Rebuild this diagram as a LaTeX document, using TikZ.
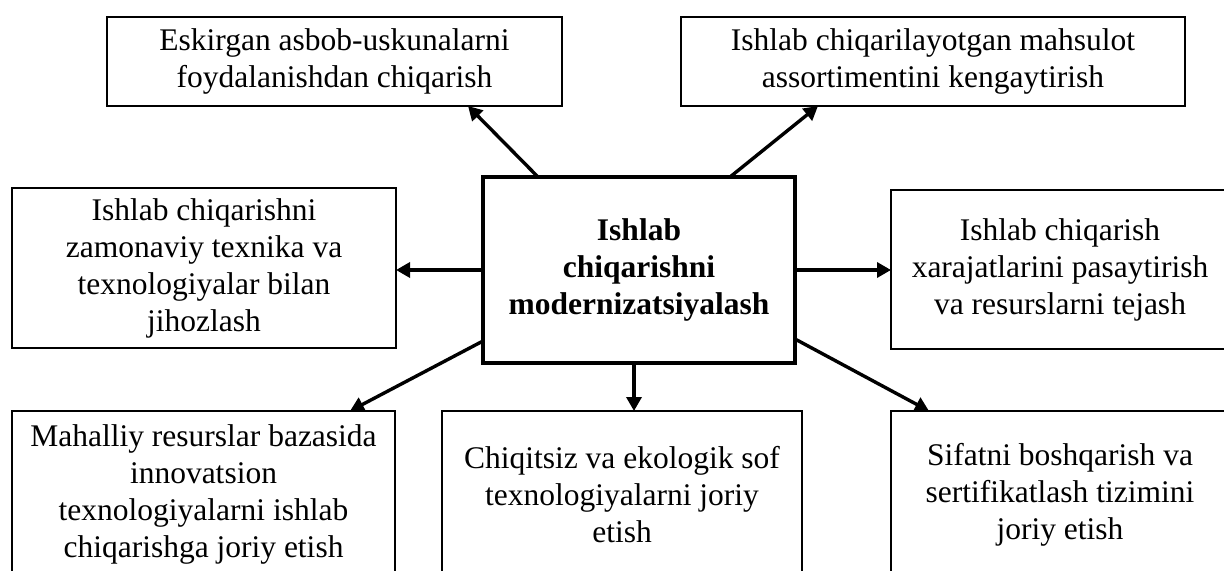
\documentclass[tikz,border=0pt]{standalone}
\usepackage{fontspec}
\setmainfont{Liberation Serif}
\usetikzlibrary{arrows.meta,calc}
\begin{document}
\begin{tikzpicture}[x=0.5pt,y=-0.5pt,
  box/.style={draw,line width=1.2pt,inner sep=0pt,outer sep=0pt,align=center,
    font=\fontsize{15.75pt}{18.5pt}\selectfont},
  mainbox/.style={box,line width=2pt,font=\fontsize{15.75pt}{18.5pt}\selectfont\bfseries},
  arr/.style={line width=1.7pt,-{Triangle[length=7pt,width=7.5pt]}}]
\useasboundingbox (0,0) rectangle (1224,571);
\fill[white] (0,0) rectangle (1224,571);
\clip (0,0) rectangle (1224,571);
% boxes
\node[box,minimum width=227.5pt,minimum height=44.5pt] (A) at (334.5,61.5)
  {Eskirgan asbob-uskunalarni\\foydalanishdan chiqarish};
\node[box,minimum width=252pt,minimum height=44.5pt] (B) at (933,61.5)
  {Ishlab chiqarilayotgan mahsulot\\assortimentini kengaytirish};
\node[mainbox,minimum width=156pt,minimum height=93pt] (C) at (639,270)
  {Ishlab\\chiqarishni\\modernizatsiyalash};
\node[box,minimum width=192pt,minimum height=80pt] (D) at (204,268)
  {Ishlab chiqarishni\\zamonaviy texnika va\\texnologiyalar bilan\\jihozlash};
\node[box,minimum width=169pt,minimum height=79.5pt] (E) at (1060,269.5)
  {Ishlab chiqarish\\xarajatlarini pasaytirish\\va resurslarni tejash};
\node[box,minimum width=191.5pt,minimum height=83.5pt] (F) at (203.5,494.5)
  {Mahalliy resurslar bazasida\\innovatsion\\texnologiyalarni ishlab\\chiqarishga joriy etish};
\node[box,minimum width=180pt,minimum height=83.5pt] (G) at (622,494.5)
  {Chiqitsiz va ekologik sof\\texnologiyalarni joriy\\etish};
\node[box,minimum width=169pt,minimum height=83.5pt] (H) at (1060,494.5)
  {Sifatni boshqarish va\\sertifikatlash tizimini\\joriy etish};
% connectors
\draw[arr] ([xshift=-50.5pt]C.north) -- ([xshift=66.75pt]A.south);
\draw[arr] ([xshift=45.5pt]C.north) -- ([xshift=-57.5pt]B.south);
\draw[arr] (C.west) -- (C.west -| D.east);
\draw[arr] (C.east) -- (C.east -| E.west);
\coordinate (cs) at ([xshift=-2.5pt]C.south);
\draw[arr] (cs) -- (cs |- G.north);
\draw[arr] ([yshift=-35.5pt]C.west) -- ([xshift=73.25pt]F.north);
\draw[arr] ([yshift=-34.5pt]C.east) -- ([xshift=-65.5pt]H.north);
\end{tikzpicture}
\end{document}
